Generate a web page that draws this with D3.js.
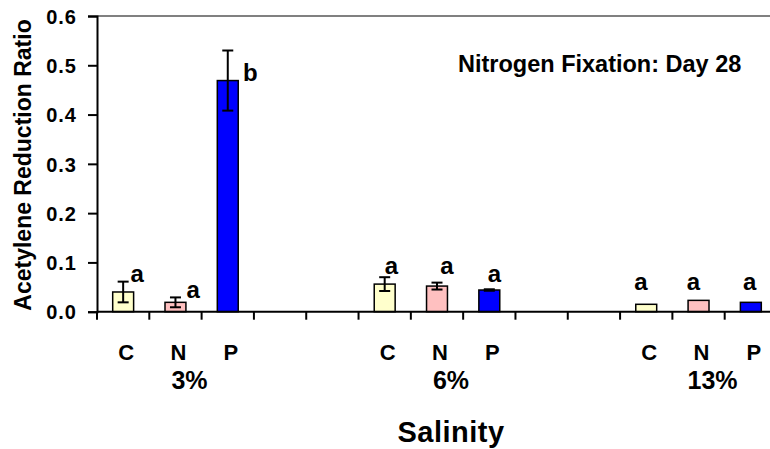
<!DOCTYPE html>
<html>
<head>
<meta charset="utf-8">
<script src="https://cdn.jsdelivr.net/npm/d3@7"></script>
<style>
	body{margin:0;background:#fff;}
	svg{display:block;font-family:"Liberation Sans",Arial,sans-serif;font-weight:bold;}
</style>
</head>
<body>
<script>

// les données
var salinity=["3%","6%","13%"];
var treatments=["C","N","P"];
var colors=["#FFFFCC","#FFC0C0","#0000FF"];

// moyennes par traitement (une valeur par salinité)
var meanC=[0.040,0.056,0.015];
var meanN=[0.019,0.052,0.023];
var meanP=[0.469,0.044,0.019];

// erreurs standard
var errC=[0.021,0.014,0];
var errN=[0.010,0.007,0];
var errP=[0.061,0.0015,0];

// lettres de signification
var letters=[["a","a","b"],["a","a","a"],["a","a","a"]];
var letterAt=[[0.060,0.028,0.469],[0.077,0.077,0.060],[0.044,0.044,0.044]];
var letterShift=[[0.27,0.34,0.43],[0.13,0.19,0.10],[-0.10,-0.10,-0.02]];

var yTicks=[0,0.1,0.2,0.3,0.4,0.5,0.6];

var slotsPerGroup=5; // 3 barres + 2 vides
var nSlots=13;

var width=770,height=449;
var plotLeft=97,plotTop=16,plotBottom=311.7,plotRight=777;

var means=[meanC,meanN,meanP];
var errs=[errC,errN,errP];

var bars=[];
salinity.forEach(function(s,g){
	treatments.forEach(function(t,k){
		bars.push({group:g,treat:k,slot:g*slotsPerGroup+k,value:means[k][g],err:errs[k][g],
			letter:letters[g][k],letterAt:letterAt[g][k],shift:letterShift[g][k]});
	});
});

var x=d3.scaleBand()
	.domain(d3.range(nSlots))
	.range([plotLeft,plotRight])
	.paddingInner(0.6)
	.paddingOuter(0.3);

var step=x.step();
var slotCenter=function(i){return x(i)+x.bandwidth()/2;};

var y=d3.scaleLinear()
	.domain([0,0.6])
	.range([plotBottom,plotTop]);

var svg=d3.select("body")
	.append("svg")
	.attr("width",width)
	.attr("height",height);

// bordure du haut
svg.append("line")
	.attr("x1",plotLeft).attr("x2",width)
	.attr("y1",y(0.6)).attr("y2",y(0.6))
	.style("stroke","#808080").style("stroke-width",2);

// axe y
var yAxis=svg.append("g")
	.attr("transform","translate("+plotLeft+",0)")
	.call(d3.axisLeft(y).tickValues(yTicks).tickFormat(d3.format(".1f")).tickSize(9).tickPadding(11));
yAxis.select(".domain").style("stroke-width",2);
yAxis.selectAll(".tick line").style("stroke-width",2);
yAxis.selectAll("text")
	.style("font-size","20px")
	.style("font-family","inherit")
	.style("letter-spacing","1px")
	.attr("dy","0.36em");

svg.append("text")
	.attr("transform","translate(31,165) rotate(-90)")
	.attr("text-anchor","middle")
	.style("font-size","23px")
	.text("Acetylene Reduction Ratio");

// barres
svg.append("g").selectAll("rect")
	.data(bars)
	.enter().append("rect")
	.attr("x",function(d){return x(d.slot);})
	.attr("width",x.bandwidth())
	.attr("y",function(d){return y(d.value);})
	.attr("height",function(d){return y(0)-y(d.value);})
	.style("fill",function(d){return colors[d.treat];})
	.style("stroke","#000")
	.style("stroke-width",1.5);

// barres d'erreur
var eb=svg.append("g").selectAll("g")
	.data(bars.filter(function(d){return d.err>0;}))
	.enter().append("g")
	.style("stroke","#000").style("stroke-width",2);
eb.append("line")
	.attr("x1",function(d){return slotCenter(d.slot);})
	.attr("x2",function(d){return slotCenter(d.slot);})
	.attr("y1",function(d){return y(d.value+d.err);})
	.attr("y2",function(d){return y(d.value-d.err);});
[1,-1].forEach(function(s){
	eb.append("line")
		.attr("x1",function(d){return slotCenter(d.slot)-5.5;})
		.attr("x2",function(d){return slotCenter(d.slot)+5.5;})
		.attr("y1",function(d){return y(d.value+s*d.err);})
		.attr("y2",function(d){return y(d.value+s*d.err);});
});

// lettres
svg.append("g").selectAll("text")
	.data(bars)
	.enter().append("text")
	.attr("x",function(d){return slotCenter(d.slot)+d.shift*step;})
	.attr("y",function(d){return y(d.letterAt);})
	.attr("text-anchor","middle")
	.style("font-size","24px")
	.text(function(d){return d.letter;});

// axe x
svg.append("line")
	.attr("x1",plotLeft).attr("x2",plotRight)
	.attr("y1",plotBottom).attr("y2",plotBottom)
	.style("stroke","#000").style("stroke-width",2);
svg.append("g").selectAll("line")
	.data(d3.range(nSlots+1))
	.enter().append("line")
	.attr("x1",function(i){return plotLeft+i*step;})
	.attr("x2",function(i){return plotLeft+i*step;})
	.attr("y1",plotBottom).attr("y2",plotBottom+8)
	.style("stroke","#000").style("stroke-width",2);

svg.append("g").selectAll("text")
	.data(bars)
	.enter().append("text")
	.attr("x",function(d){return slotCenter(d.slot)+3;})
	.attr("y",360)
	.attr("text-anchor","middle")
	.style("font-size","22px")
	.text(function(d){return treatments[d.treat];});

svg.append("g").selectAll("text")
	.data(salinity)
	.enter().append("text")
	.attr("x",function(d,g){return slotCenter(g*slotsPerGroup+1)+14;})
	.attr("y",389)
	.attr("text-anchor","middle")
	.style("font-size","25px")
	.text(function(d){return d;});

svg.append("text")
	.attr("x",451).attr("y",442)
	.attr("text-anchor","middle")
	.style("font-size","29px")
	.style("letter-spacing","0.5px")
	.text("Salinity");

svg.append("text")
	.attr("x",458).attr("y",72)
	.style("font-size","23.5px")
	.text("Nitrogen Fixation: Day 28");

</script>
</body>
</html>
